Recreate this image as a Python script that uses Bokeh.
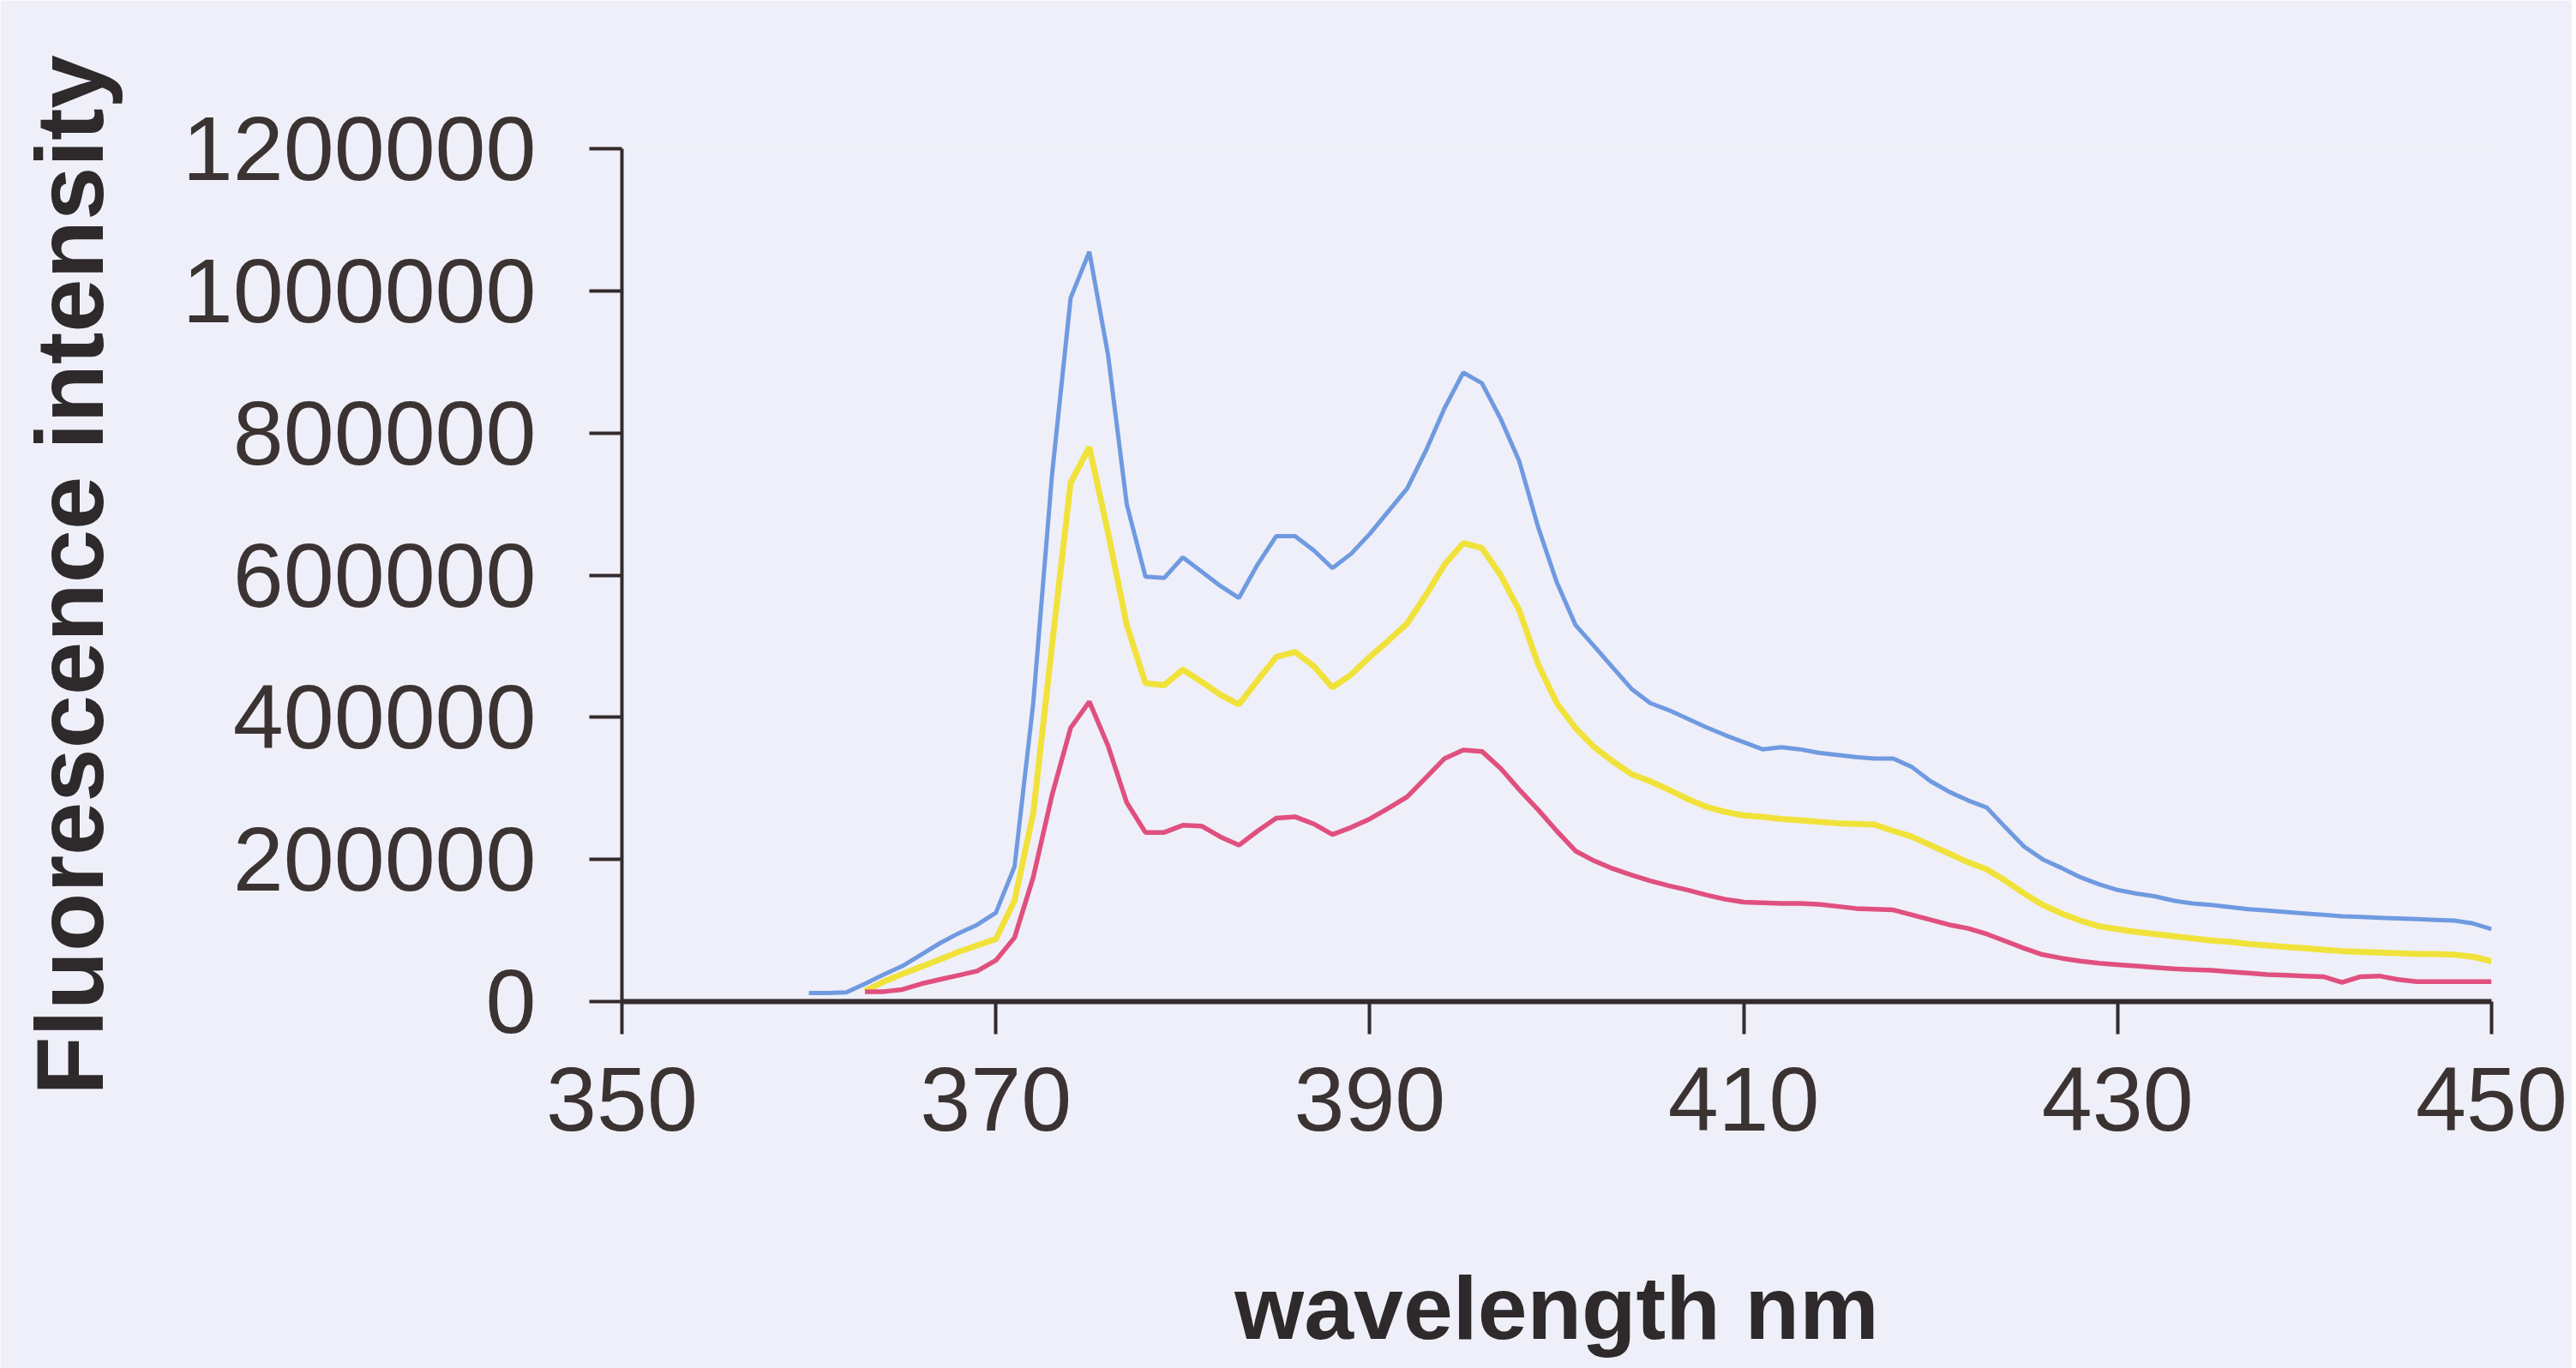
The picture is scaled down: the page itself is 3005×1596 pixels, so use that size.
from bokeh.plotting import figure
from bokeh.models import FixedTicker, Range1d
from bokeh.embed import file_html
from bokeh.resources import INLINE

# wavelengths (nm)
wl_blue = list(range(360, 451))
wl_yellow = list(range(363, 451))
wl_magenta = list(range(363, 451))

blue = [12000, 12000, 13000, 25000, 38000, 50000, 66000, 82000, 96000, 108000,
        125000, 190000, 420000, 740000, 990000, 1055000, 910000, 700000, 598000, 596000,
        625000, 605000, 585000, 568000, 615000, 655000, 655000, 635000, 610000, 630000,
        658000, 690000, 722000, 775000, 835000, 885000, 870000, 820000, 760000, 668000,
        590000, 530000, 500000, 470000, 440000, 420000, 410000, 398000, 386000, 375000,
        365000, 355000, 358000, 355000, 350000, 347000, 344000, 342000, 342000, 330000,
        310000, 295000, 283000, 273000, 245000, 218000, 200000, 188000, 175000, 165000,
        157000, 152000, 148000, 142000, 138000, 136000, 133000, 130000, 128000, 126000,
        124000, 122000, 120000, 119000, 118000, 117000, 116000, 115000, 114000, 110000,
        102000]

yellow = [15000, 28000, 39000, 49000, 59000, 70000, 79000,
          88000, 142000, 265000, 500000, 730000, 780000, 660000, 530000, 448000, 445000,
          467000, 450000, 432000, 418000, 452000, 485000, 492000, 472000, 442000, 460000,
          485000, 508000, 532000, 572000, 615000, 645000, 638000, 600000, 550000, 475000,
          420000, 385000, 358000, 338000, 320000, 310000, 298000, 285000, 274000, 267000,
          262000, 260000, 257000, 255000, 253000, 251000, 250000, 249000, 240000, 232000,
          220000, 208000, 196000, 186000, 170000, 152000, 136000, 124000, 114000, 106000,
          102000, 98000, 95000, 92000, 89000, 86000, 84000, 81000, 79000, 77000,
          75000, 73000, 71000, 70000, 69000, 68000, 67000, 67000, 66000, 63000,
          57000]

magenta = [14000, 14000, 17000, 25000, 31000, 37000, 43000,
           58000, 90000, 175000, 290000, 385000, 422000, 360000, 280000, 238000, 238000,
           248000, 247000, 232000, 220000, 240000, 258000, 260000, 250000, 235000, 245000,
           257000, 272000, 288000, 315000, 342000, 354000, 352000, 328000, 298000, 270000,
           240000, 212000, 198000, 187000, 178000, 170000, 163000, 157000, 150000, 144000,
           140000, 139000, 138000, 138000, 137000, 134000, 131000, 130000, 129000, 122000,
           115000, 108000, 103000, 95000, 85000, 75000, 66000, 61000, 57000, 54000,
           52000, 50000, 48000, 46000, 45000, 44000, 42000, 40000, 38000, 37000,
           36000, 35000, 27000, 35000, 36000, 31000, 28000, 28000, 28000, 28000,
           28000]

x_ticks = [350, 370, 390, 410, 430, 450]
y_ticks = [0, 200000, 400000, 600000, 800000, 1000000, 1200000]
x_title = "wavelength nm"
y_title = "Fluorescence intensity"

BG = "#efeff9"
AX = "#332b2c"

W, H = 3000, 1596
FL, FT, FR, FB = 725, 173, 2906, 1168  # frame edges in page pixels

p = figure(width=W, height=H, output_backend="svg", toolbar_location=None,
           x_range=Range1d(350, 450), y_range=Range1d(0, 1200000),
           min_border_left=FL, min_border_right=W - FR, min_border_top=FT,
           min_border_bottom=H - FB)
p.background_fill_color = BG
p.border_fill_color = BG
p.outline_line_color = None
p.grid.visible = False

p.line(wl_blue, blue, line_color="#6f9ae0", line_width=5)
p.line(wl_yellow, yellow, line_color="#f0e23a", line_width=7)
p.line(wl_magenta, magenta, line_color="#e0507e", line_width=5.5)

for ax in (p.xaxis[0], p.yaxis[0]):
    ax.axis_line_color = AX
    ax.major_tick_line_color = AX
    ax.major_tick_line_width = 4
    ax.minor_tick_line_color = None
    ax.major_label_text_font = "Liberation Sans"
    ax.major_label_text_color = "#3a3331"
    ax.major_label_text_font_size = "106px"
    ax.axis_label_text_font = "Liberation Sans"
    ax.axis_label_text_font_style = "bold"
    ax.axis_label_text_color = "#2e2a2b"
    ax.major_tick_out = 38
    ax.major_tick_in = 0

p.xaxis.axis_label_text_font_size = "104px"
p.yaxis.axis_label_text_font_size = "112px"
p.xaxis.axis_line_width = 6
p.yaxis.axis_line_width = 4
p.xaxis.ticker = FixedTicker(ticks=x_ticks)
p.yaxis.ticker = FixedTicker(ticks=y_ticks)
p.yaxis.formatter.use_scientific = False
p.xaxis.axis_label = x_title
p.yaxis.axis_label = y_title
p.xaxis.major_label_standoff = 39
p.yaxis.major_label_standoff = 62
p.xaxis.axis_label_standoff = 146
p.yaxis.axis_label_standoff = 66

open("out.html", "w").write(file_html(p, INLINE))
